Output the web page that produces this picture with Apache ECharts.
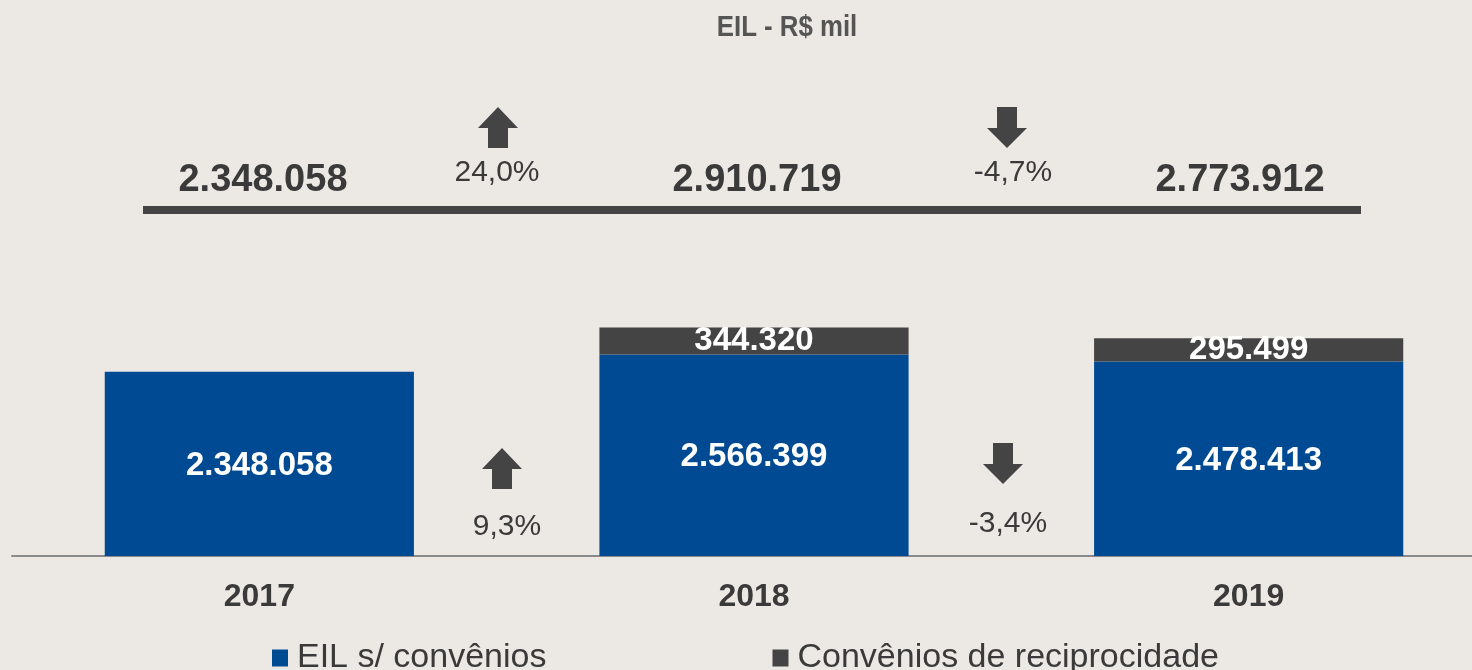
<!DOCTYPE html>
<html>
<head>
<meta charset="utf-8">
<script src="https://cdn.jsdelivr.net/npm/echarts@6/dist/echarts.min.js"></script>
<style>
  html, body { margin: 0; padding: 0; background: #ece9e4; overflow: hidden; }
  #chart { width: 1496px; height: 670px; }
</style>
</head>
<body>
<div id="chart"></div>
<script>
const years = ['2017', '2018', '2019'];
const semConvenios = [2348058, 2566399, 2478413];
const convenios = [null, 344320, 295499];
const totals = [2348058, 2910719, 2773912];
const totalChange = ['24,0%', '-4,7%'];
const semChange = ['9,3%', '-3,4%'];

const BLUE = '#004a93';
const DARK = '#444444';
const TEXT = '#3a3a3a';

function fmt(v) {
    return String(v).replace(/\B(?=(\d{3})+(?!\d))/g, '.');
}

function arrow(cx, top, up) {
    // arrow 40 wide, 41 tall
    const pts = up
        ? [[cx, top], [cx + 20, top + 21], [cx + 10, top + 21], [cx + 10, top + 41],
           [cx - 10, top + 41], [cx - 10, top + 21], [cx - 20, top + 21]]
        : [[cx - 10, top], [cx + 10, top], [cx + 10, top + 21], [cx + 20, top + 21],
           [cx, top + 41], [cx - 20, top + 21], [cx - 10, top + 21]];
    return { type: 'polygon', shape: { points: pts }, style: { fill: DARK } };
}

function label(x, y, text, size, weight) {
    return {
        type: 'text', x: x, y: y,
        style: {
            text: text, fill: TEXT, font: weight + ' ' + size + 'px "Liberation Sans", Arial, sans-serif',
            align: 'center', verticalAlign: 'middle'
        }
    };
}

// chart div is a bit wider than the window so the last category can run off the edge
const chart = echarts.init(document.getElementById('chart'));

const totalX = [263, 757, 1240];
const graphics = [
    {
        type: 'text', x: 787, y: 28, scaleX: 0.86,
        style: {
            text: 'EIL - R$ mil', fill: '#555555',
            font: 'bold 30px "Liberation Sans", Arial, sans-serif',
            align: 'center', verticalAlign: 'middle'
        }
    },
    { type: 'rect', shape: { x: 143, y: 206, width: 1218, height: 8 }, style: { fill: DARK } },
    arrow(498, 107, true),
    arrow(1007, 107, false),
    label(497, 173, totalChange[0], 30, 'normal'),
    label(1013, 173, totalChange[1], 30, 'normal'),
    arrow(502, 448, true),
    arrow(1003, 443, false),
    label(507, 527, semChange[0], 30, 'normal'),
    label(1008, 524, semChange[1], 30, 'normal')
];
totals.forEach((t, i) => graphics.push(label(totalX[i], 181, fmt(t), 38, 'bold')));

const option = {
    backgroundColor: '#ece9e4',
    animation: false,
    grid: { left: 12, right: 0, top: 297, bottom: 114 },
    legend: {
        left: 267, top: 636,
        itemWidth: 16, itemHeight: 17, itemGap: 226,
        icon: 'rect',
        textStyle: { fontSize: 34, color: TEXT, fontFamily: '"Liberation Sans", Arial, sans-serif', padding: [0, 0, 0, 4] },
        data: ['EIL s/ convênios', 'Convênios de reciprocidade']
    },
    xAxis: {
        type: 'category',
        data: years,
        axisLine: { lineStyle: { color: '#8a8a8a', width: 2 } },
        axisTick: { show: false },
        axisLabel: {
            margin: 25, fontSize: 32, fontWeight: 'bold', color: TEXT,
            fontFamily: '"Liberation Sans", Arial, sans-serif'
        }
    },
    yAxis: {
        type: 'value', min: 0, max: 3300000,
        show: false, splitLine: { show: false }
    },
    series: [
        {
            name: 'EIL s/ convênios',
            type: 'bar', stack: 'eil', barWidth: '62.5%',
            itemStyle: { color: BLUE },
            label: {
                show: true, position: 'inside', color: '#fff', fontSize: 33, fontWeight: 'bold',
                fontFamily: '"Liberation Sans", Arial, sans-serif',
                offset: [0, 2],
                formatter: p => fmt(p.value)
            },
            data: semConvenios
        },
        {
            name: 'Convênios de reciprocidade',
            type: 'bar', stack: 'eil', barWidth: '62.5%',
            itemStyle: { color: DARK },
            label: {
                show: true, position: 'inside', color: '#fff', fontSize: 33, fontWeight: 'bold',
                fontFamily: '"Liberation Sans", Arial, sans-serif',
                formatter: p => fmt(p.value)
            },
            data: convenios
        }
    ],
    graphic: graphics
};
option && chart.setOption(option);
</script>
</body>
</html>
